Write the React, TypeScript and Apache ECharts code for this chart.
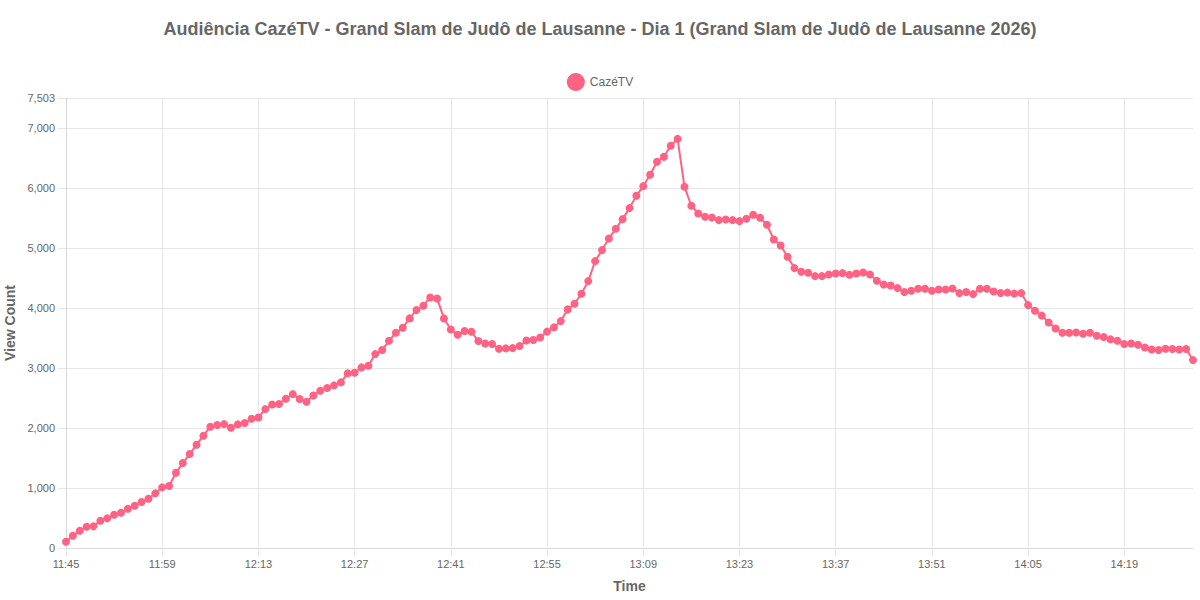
import * as echarts from 'echarts';
import { useEffect, useRef } from 'react';

// one sample per minute, 11:45 -> 14:29
const startMinute = 11 * 60 + 45;
const sampleCount = 165;
const timeLabels: string[] = Array.from({ length: sampleCount }, (_, i) => {
  const m = startMinute + i;
  return `${Math.floor(m / 60)}:${String(m % 60).padStart(2, '0')}`;
});

const viewCounts: number[] = [
  // 11:45 - 12:19
  105, 205, 288, 355, 361, 455, 494, 555, 589, 655, 705, 766, 822, 911, 1011, 1033, 1255, 1416,
  1566, 1722, 1872, 2022, 2050, 2066, 2005, 2061, 2083, 2155, 2177, 2316, 2394, 2400, 2489, 2566,
  2483,
  // 12:20 - 12:53
  2439, 2544, 2622, 2667, 2711, 2761, 2911, 2922, 3011, 3039, 3233, 3300, 3455, 3589, 3672, 3828,
  3967, 4039, 4178, 4161, 3828, 3644, 3555, 3617, 3606, 3450, 3411, 3400, 3322, 3328, 3333, 3367,
  3461, 3467,
  // 12:54 - 13:32
  3511, 3608, 3678, 3783, 3978, 4072, 4240, 4450, 4783, 4967, 5161, 5322, 5483, 5667, 5872, 6033,
  6222, 6439, 6522, 6706, 6821, 6022, 5706, 5578, 5522, 5511, 5467, 5478, 5467, 5450, 5489, 5556,
  5506, 5389, 5144, 5044, 4856, 4667, 4606,
  // 13:33 - 14:04
  4589, 4533, 4533, 4561, 4578, 4583, 4556, 4578, 4594, 4561, 4456, 4394, 4378, 4333, 4267, 4289,
  4322, 4322, 4289, 4311, 4311, 4328, 4250, 4267, 4233, 4322, 4322, 4278, 4253, 4258, 4241, 4250,
  // 14:05 - 14:29
  4050, 3956, 3875, 3761, 3661, 3589, 3589, 3594, 3572, 3589, 3539, 3517, 3478, 3456, 3400, 3411,
  3389, 3344, 3311, 3300, 3322, 3317, 3311, 3317, 3133,
];

const seriesName = 'CazéTV';
const yMax = 7503;
const yStep = 1000;
const labelEvery = 14;

const FONT = '"Liberation Sans", Helvetica, Arial, sans-serif';
const TEXT = '#666';
const GRID = '#e6e6e6';
const PINK = '#ff6384';

export default function App() {
  const ref = useRef<HTMLDivElement | null>(null);

  useEffect(() => {
    document.body.style.margin = '0';
    if (!ref.current) return undefined;
    const chart = echarts.init(ref.current, undefined, { renderer: 'svg' });
    const showTick = (i: number) => i % labelEvery === 0;

    chart.setOption({
      animation: false,
      textStyle: { fontFamily: FONT },
      title: {
        text: 'Audiência CazéTV - Grand Slam de Judô de Lausanne - Dia 1 (Grand Slam de Judô de Lausanne 2026)',
        left: 'center',
        top: 20,
        padding: 0,
        textStyle: { color: TEXT, fontSize: 18, fontWeight: 'bold', fontFamily: FONT },
      },
      legend: {
        data: [seriesName],
        top: 73,
        padding: 0,
        icon: 'circle',
        itemWidth: 18,
        itemHeight: 18,
        itemGap: 10,
        textStyle: { color: TEXT, fontSize: 12, fontFamily: FONT },
      },
      grid: { left: 66, right: 7, top: 98, bottom: 52, outerBoundsMode: 'none', containLabel: false },
      xAxis: {
        type: 'category',
        data: timeLabels,
        boundaryGap: false,
        name: 'Time',
        nameLocation: 'middle',
        nameGap: 31,
        nameTextStyle: { color: TEXT, fontSize: 14, fontWeight: 'bold', fontFamily: FONT },
        axisLine: { lineStyle: { color: '#d9d9d9' } },
        axisTick: { interval: showTick, length: 8, lineStyle: { color: GRID } },
        axisLabel: {
          interval: showTick,
          color: TEXT,
          fontSize: 11,
          margin: 10,
          fontFamily: FONT,
        },
        splitLine: { show: true, interval: showTick, lineStyle: { color: GRID } },
      },
      yAxis: {
        type: 'value',
        min: 0,
        max: yMax,
        interval: yStep,
        name: 'View Count',
        nameLocation: 'middle',
        nameGap: 47,
        nameTextStyle: { color: TEXT, fontSize: 14, fontWeight: 'bold', fontFamily: FONT },
        axisLine: { show: true, lineStyle: { color: '#d9d9d9' } },
        axisTick: { show: true, length: 8, lineStyle: { color: GRID } },
        axisLabel: {
          color: TEXT,
          fontSize: 11,
          margin: 11,
          fontFamily: FONT,
          formatter: (v: number) => v.toLocaleString('en-US'),
        },
        splitLine: { show: true, lineStyle: { color: GRID } },
      },
      series: [
        {
          type: 'line',
          name: seriesName,
          data: viewCounts,
          symbol: 'circle',
          symbolSize: 8,
          showAllSymbol: true,
          lineStyle: { color: PINK, width: 2 },
          itemStyle: { color: PINK, borderWidth: 0 },
        },
      ],
    });

    return () => chart.dispose();
  }, []);

  return <div ref={ref} style={{ width: 1200, height: 600 }} />;
}
